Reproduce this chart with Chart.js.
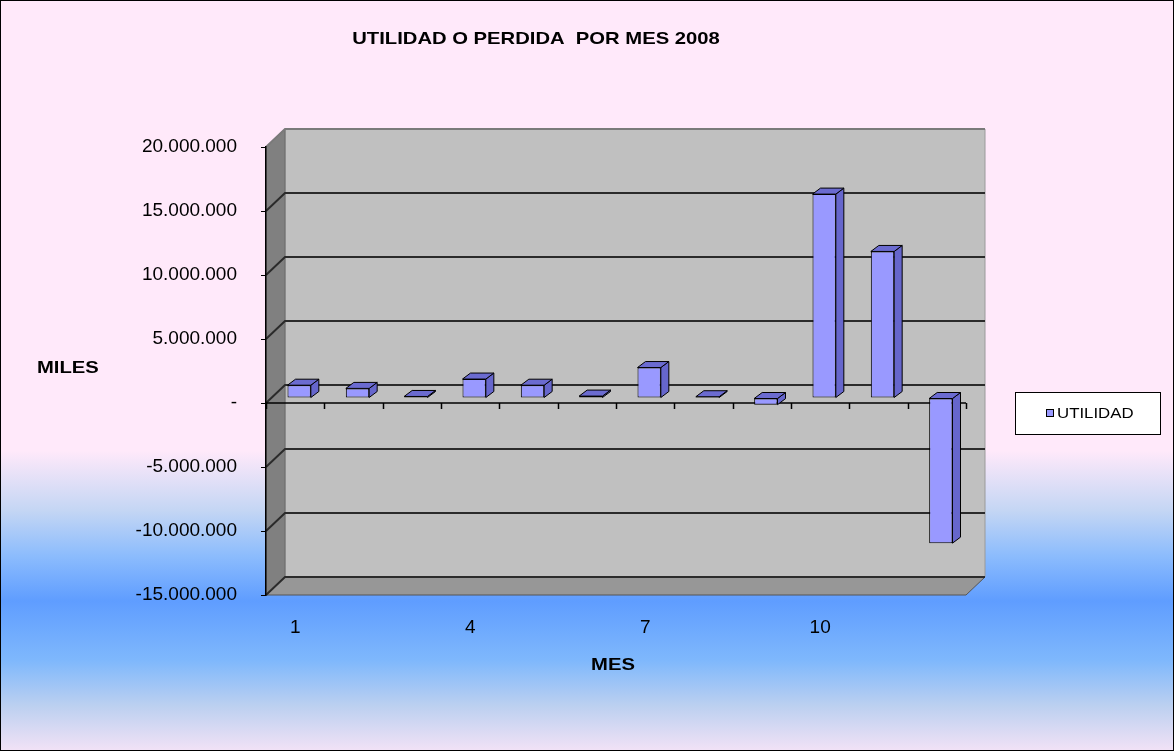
<!DOCTYPE html>
<html lang="es">
  <head>
    <meta charset="UTF-8" />
    <title>Utilidad o perdida por mes 2008</title>
    <style>
      html,
      body {
        margin: 0;
        padding: 0;
        background: #ffe9fa;
      }
      canvas {
        display: block;
      }
    </style>
  </head>
  <body>
    <canvas id="myChart" width="1174" height="751"></canvas>

    <script src="https://cdn.jsdelivr.net/npm/chart.js@4.4.1/dist/chart.umd.min.js"></script>
    <script>
      // data
      var meses = ["1", "2", "3", "4", "5", "6", "7", "8", "9", "10", "11", "12"];
      var utilidad = [
        1000000, 750000, 120000, 1480000, 1000000, 150000, 2380000, 100000,
        -520000, 15930000, 11450000, -11340000,
      ];
      var yMin = -15000000,
        yMax = 20000000,
        yStep = 5000000;
      var mesesConEtiqueta = ["1", "4", "7", "10"];

      var FONT = "'Liberation Sans', Arial, sans-serif";
      var depth = { dx: 19, dy: -18 }; // back wall offset
      var barShift = { dx: 4, dy: -5 }; // bars stand a little inside the box
      var barDepth = { dx: 8, dy: -6 };

      function miles(v) {
        if (v === 0) return "-";
        var s = Math.abs(v).toString().replace(/\B(?=(\d{3})+(?!\d))/g, ".");
        return (v < 0 ? "-" : "") + s;
      }

      // stretched text, the original picture is a bit wider than tall
      function stretchText(ctx, text, x, y, size, bold, align, sx) {
        ctx.save();
        ctx.font = (bold ? "bold " : "") + size + "px " + FONT;
        ctx.fillStyle = "#000";
        ctx.textBaseline = "middle";
        ctx.textAlign = align;
        ctx.translate(x, y);
        ctx.scale(sx, 1);
        ctx.fillText(text, 0, 0);
        ctx.restore();
      }

      function poly(ctx, pts, fill, stroke, lw) {
        ctx.beginPath();
        ctx.moveTo(pts[0][0], pts[0][1]);
        for (var i = 1; i < pts.length; i++) ctx.lineTo(pts[i][0], pts[i][1]);
        ctx.closePath();
        if (fill) {
          ctx.fillStyle = fill;
          ctx.fill();
        }
        if (stroke) {
          ctx.strokeStyle = stroke;
          ctx.lineWidth = lw || 1;
          ctx.stroke();
        }
      }

      var fondo3d = {
        id: "fondo3d",
        beforeDraw: function (chart) {
          var ctx = chart.ctx;
          var a = chart.chartArea;
          var y = chart.scales.y;
          var W = chart.width,
            H = chart.height;

          ctx.save();
          // page background
          var g = ctx.createLinearGradient(0, 0, 0, H);
          g.addColorStop(0, "#ffe9fa");
          g.addColorStop(0.6, "#ffe9fa");
          g.addColorStop(0.68, "#c4d6f4");
          g.addColorStop(0.74, "#8cbcfd");
          g.addColorStop(0.8, "#5f9dff");
          g.addColorStop(0.88, "#7fb8fc");
          g.addColorStop(0.94, "#bcd0f0");
          g.addColorStop(1, "#f2e2f6");
          ctx.fillStyle = g;
          ctx.fillRect(0, 0, W, H);

          var L = a.left,
            R = a.right,
            T = a.top,
            B = a.bottom;
          var dx = depth.dx,
            dy = depth.dy;

          // back wall
          poly(ctx, [[L + dx, T + dy], [R + dx, T + dy], [R + dx, B + dy], [L + dx, B + dy]], "#c0c0c0", "#9a9a9a", 1);
          // left wall
          poly(ctx, [[L, T], [L + dx, T + dy], [L + dx, B + dy], [L, B]], "#808080", "#6a6a6a", 1);
          // floor
          poly(ctx, [[L, B], [L + dx, B + dy], [R + dx, B + dy], [R, B]], "#979797", "#555", 1);

          // grid lines on the back wall
          ctx.lineWidth = 2;
          y.ticks.forEach(function (t) {
            var py = y.getPixelForValue(t.value);
            ctx.strokeStyle = t.value === yMax ? "#7a7a7a" : "#2b2b2b";
            ctx.beginPath();
            ctx.moveTo(L, py);
            ctx.lineTo(L + dx, py + dy);
            ctx.lineTo(R + dx, py + dy);
            ctx.stroke();
          });
          ctx.restore();
        },
        beforeDatasetsDraw: function (chart) {
          var ctx = chart.ctx;
          var a = chart.chartArea;
          var y0 = chart.scales.y.getPixelForValue(0);

          ctx.save();
          // category axis at zero
          ctx.strokeStyle = "#000";
          ctx.lineWidth = 1.5;
          ctx.beginPath();
          ctx.moveTo(a.left, y0);
          ctx.lineTo(a.right, y0);
          var step = (a.right - a.left) / meses.length;
          for (var i = 0; i <= meses.length; i++) {
            var px = Math.round(a.left + i * step) + 0.5;
            ctx.moveTo(px, y0);
            ctx.lineTo(px, y0 + 6);
          }
          ctx.stroke();
          ctx.restore();

          // bars sit a bit deeper than the front plane
          ctx.save();
          ctx.translate(barShift.dx, barShift.dy);

          // top and side faces of the bars
          var meta = chart.getDatasetMeta(0);
          meta.data.forEach(function (bar) {
            var p = bar.getProps(["x", "y", "base", "width"], true);
            var l = p.x - p.width / 2,
              r = p.x + p.width / 2;
            var top = Math.min(p.y, p.base),
              bot = Math.max(p.y, p.base);
            var ddx = barDepth.dx,
              ddy = barDepth.dy;
            poly(ctx, [[r, top], [r + ddx, top + ddy], [r + ddx, bot + ddy], [r, bot]], "#6666cc", "#000", 1);
            poly(ctx, [[l, top], [l + ddx, top + ddy], [r + ddx, top + ddy], [r, top]], "#6b6bd0", "#000", 1);
          });
        },
        afterDatasetsDraw: function (chart) {
          chart.ctx.restore();
        },
        afterDraw: function (chart) {
          var ctx = chart.ctx;
          // titles
          stretchText(ctx, "UTILIDAD O PERDIDA  POR MES 2008", 536, 39, 17, true, "center", 1.19);
          stretchText(ctx, "MILES", 37, 368, 17, true, "left", 1.19);
          stretchText(ctx, "MES", 613, 665, 17, true, "center", 1.19);

          // legend
          ctx.save();
          ctx.fillStyle = "#fff";
          ctx.fillRect(1015.5, 392.5, 145, 42);
          ctx.strokeStyle = "#000";
          ctx.lineWidth = 1;
          ctx.strokeRect(1015.5, 392.5, 145, 42);
          ctx.fillStyle = "#9999ff";
          ctx.fillRect(1046.5, 409.5, 7, 7);
          ctx.strokeRect(1046.5, 409.5, 7, 7);
          ctx.restore();
          stretchText(ctx, "UTILIDAD", 1057, 414, 14, false, "left", 1.2);

          // outer frame
          ctx.save();
          ctx.strokeStyle = "#000";
          ctx.lineWidth = 1;
          ctx.strokeRect(0.5, 0.5, chart.width - 1, chart.height - 1);
          ctx.restore();
        },
      };

      var ctx = document.getElementById("myChart").getContext("2d");
      var myChart = new Chart(ctx, {
        type: "bar",
        data: {
          labels: meses,
          datasets: [
            {
              label: "UTILIDAD",
              data: utilidad,
              backgroundColor: "#9999ff",
              borderColor: "#000",
              borderWidth: 1,
              borderSkipped: false,
              barPercentage: 0.4,
              categoryPercentage: 1,
            },
          ],
        },
        options: {
          responsive: false,
          animation: false,
          events: [],
          layout: {
            padding: { left: 0, top: 147, right: 208, bottom: 96 },
          },
          plugins: {
            legend: { display: false },
            title: { display: false },
            tooltip: { enabled: false },
          },
          scales: {
            x: {
              grid: { display: false },
              border: { display: false },
              ticks: {
                autoSkip: false,
                maxRotation: 0,
                padding: 13,
                color: "#000",
                font: { family: FONT, size: 19 },
                callback: function (v, i) {
                  var m = meses[i];
                  return mesesConEtiqueta.indexOf(m) >= 0 ? m : "";
                },
              },
              afterFit: function (s) {
                s.height = 60;
              },
            },
            y: {
              min: yMin,
              max: yMax,
              ticks: {
                stepSize: yStep,
                padding: 24,
                color: "#000",
                font: { family: FONT, size: 19 },
                callback: function (v) {
                  return miles(v);
                },
              },
              grid: {
                drawOnChartArea: false,
                drawTicks: true,
                tickLength: 5,
                color: "#000",
              },
              border: { display: true, color: "#000", width: 1.5 },
              afterFit: function (s) {
                s.width = 266;
              },
            },
          },
        },
        plugins: [fondo3d],
      });
    </script>
  </body>
</html>
